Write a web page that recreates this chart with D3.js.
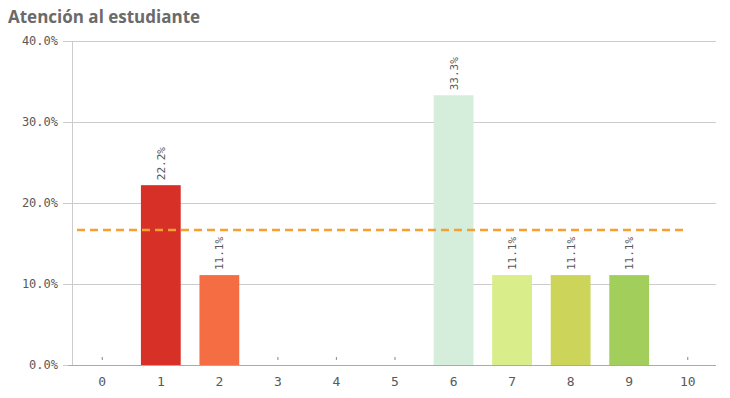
<!DOCTYPE html>
<html><head><meta charset="utf-8">
<script src="https://cdn.jsdelivr.net/npm/d3@7"></script>
<style>body{margin:0;background:#fff;} svg{display:block;}</style>
</head><body>
<svg id="c" width="730" height="398"></svg>
<script>
const categories = ["0","1","2","3","4","5","6","7","8","9","10"];
const values = [0, 22.2, 11.1, 0, 0, 0, 33.3, 11.1, 11.1, 11.1, 0];
const barColors = ["#cccccc","#d73027","#f46d43","#cccccc","#cccccc","#cccccc","#d4eedb","#d9ed8a","#ccd45a","#a2cf5c","#cccccc"];
const yTicks = [0, 10, 20, 30, 40];
const averageValue = 16.67;
const title = "Atención al estudiante";

const svg = d3.select("#c");
const fontMono = "'DejaVu Sans Mono', monospace";
const x = d3.scaleBand().domain(categories).range([73, 717]).paddingInner(0.32).paddingOuter(0.16);
const y = d3.scaleLinear().domain([0, 40]).range([365, 41]);

svg.append("text").attr("x", 8).attr("y", 23).text(title)
  .attr("font-family", "'Open Sans', sans-serif").attr("font-weight", "bold")
  .attr("font-size", 17).attr("fill", "#6a6a6a");

// grid
const yAxis = d3.axisLeft(y).tickValues(yTicks).tickFormat(d => d.toFixed(1) + "%").tickSize(-(716 - 72)).tickSizeOuter(0).tickPadding(14);
const ga = svg.append("g").attr("transform", "translate(72,0)").call(yAxis);
ga.select(".domain").attr("stroke", "#cccccc");
ga.selectAll(".tick line").attr("stroke", "#cccccc").attr("x1", -9);
ga.selectAll(".tick text").attr("font-family", fontMono).attr("font-size", 12).attr("fill", "#595959");

// bars
const nz = categories.map((c, i) => ({c, v: values[i], col: barColors[i]}));
svg.append("g").selectAll("rect").data(nz.filter(d => d.v > 0)).join("rect")
  .attr("x", d => x(d.c)).attr("width", x.bandwidth())
  .attr("y", d => y(d.v)).attr("height", d => y(0) - y(d.v)).attr("fill", d => d.col);

// zero markers
svg.append("g").selectAll("line").data(nz.filter(d => d.v === 0)).join("line")
  .attr("x1", d => x(d.c) + x.bandwidth() / 2).attr("x2", d => x(d.c) + x.bandwidth() / 2)
  .attr("y1", y(0) - 8).attr("y2", y(0) - 5).attr("stroke", "#999").attr("stroke-width", 1.2);

// x axis
const xAxis = d3.axisBottom(x).tickSize(0).tickPadding(12);
const gx = svg.append("g").attr("transform", "translate(0,365)").call(xAxis);
gx.select(".domain").attr("stroke", "#aaaaaa").attr("d", "M68,0.5H716");
gx.selectAll(".tick text").attr("font-family", fontMono).attr("font-size", 13).attr("fill", "#595959");

// labels
svg.append("g").selectAll("text").data(nz.filter(d => d.v > 0)).join("text")
  .attr("transform", d => `translate(${x(d.c) + x.bandwidth() / 2 + 4},${y(d.v) - 5}) rotate(-90)`)
  .attr("font-family", fontMono).attr("font-size", 11).attr("fill", "#595959")
  .text(d => d.v.toFixed(1) + "%");

// average line
svg.append("line").attr("x1", 77).attr("x2", x("10") + x.bandwidth() / 2)
  .attr("y1", y(averageValue)).attr("y2", y(averageValue))
  .attr("stroke", "#f5a030").attr("stroke-width", 2.5).attr("stroke-dasharray", "8,5");
</script>
</body></html>
